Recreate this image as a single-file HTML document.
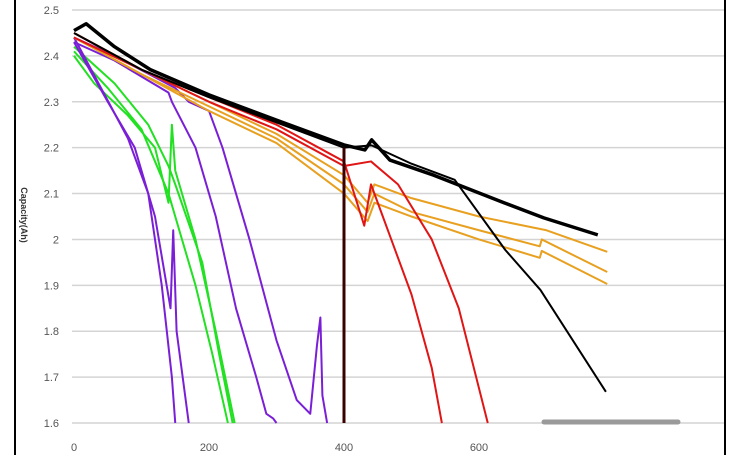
<!DOCTYPE html>
<html><head><meta charset="utf-8"><style>
body{margin:0;background:#fff;width:753px;height:455px;overflow:hidden;font-family:"Liberation Sans",sans-serif}
</style></head><body>
<svg id="chart" width="753" height="455" viewBox="0 0 753 455" xmlns="http://www.w3.org/2000/svg">
<line x1="15" y1="0" x2="15" y2="455" stroke="#000" stroke-width="2"/>
<line x1="725" y1="0" x2="725" y2="455" stroke="#000" stroke-width="2"/>
<g id="grid"></g><g id="series"></g><g id="labels"></g>
<line x1="544" y1="422" x2="678" y2="422" stroke="#9a9a9a" stroke-width="5" stroke-linecap="round"/>
<text transform="translate(21,215) rotate(90)" font-size="9" font-weight="bold" fill="#333" text-anchor="middle">Capacity(Ah)</text>
</svg>
<script>
const yTicks=[2.5,2.4,2.3,2.2,2.1,2,1.9,1.8,1.7,1.6];
const yTickLabels=["2.5","2.4","2.3","2.2","2.1","2","1.9","1.8","1.7","1.6"];
const xTicks=[0,200,400,600];
const black1=[[0,2.455],[18,2.47],[60,2.42],[113,2.37],[200,2.315],[300,2.26],[400,2.206],[431,2.195],[441,2.217],[468,2.173],[533,2.14],[637,2.08],[696,2.047],[776,2.01]];
const black2=[[0,2.45],[100,2.37],[200,2.31],[300,2.255],[400,2.2],[441,2.205],[500,2.165],[564,2.13],[639,1.977],[691,1.89],[788,1.668]];
const blackVert=[[400,2.2],[400,1.6]];
const orange1=[[0,2.45],[100,2.37],[200,2.3],[300,2.23],[400,2.14],[435,2.08],[445,2.12],[500,2.09],[600,2.05],[700,2.02],[790,1.973]];
const orange2=[[0,2.44],[100,2.36],[200,2.29],[300,2.22],[400,2.12],[435,2.06],[445,2.1],[500,2.06],[600,2.02],[690,1.985],[693,2.0],[790,1.929]];
const orange3=[[0,2.44],[100,2.36],[200,2.28],[300,2.21],[400,2.1],[435,2.04],[445,2.08],[500,2.05],[600,2.0],[690,1.96],[693,1.975],[790,1.903]];
const red1=[[0,2.45],[100,2.37],[200,2.31],[300,2.25],[400,2.17],[430,2.03],[440,2.12],[470,2.0],[500,1.88],[530,1.72],[545,1.6]];
const red2=[[0,2.44],[100,2.37],[200,2.3],[300,2.24],[400,2.16],[440,2.17],[480,2.12],[530,2.0],[570,1.85],[613,1.6]];
const green1=[[0,2.4],[30,2.34],[80,2.27],[120,2.2],[140,2.08],[145,2.25],[150,2.15],[180,2.0],[210,1.8],[238,1.6]];
const green2=[[0,2.42],[60,2.34],[110,2.25],[140,2.16],[150,2.12],[190,1.95],[215,1.75],[235,1.6]];
const green3=[[0,2.41],[50,2.33],[100,2.24],[140,2.1],[150,2.05],[180,1.9],[205,1.75],[228,1.6]];
const purple1=[[0,2.44],[40,2.33],[80,2.22],[110,2.1],[130,1.9],[145,1.7],[150,1.6]];
const purple2=[[0,2.43],[50,2.3],[90,2.2],[120,2.05],[143,1.85],[147,2.02],[152,1.8],[170,1.6]];
const purple3=[[0,2.44],[60,2.4],[150,2.33],[170,2.3],[200,2.28],[220,2.2],[260,2.0],[300,1.78],[330,1.65],[350,1.62],[360,1.77],[365,1.83],[368,1.66],[375,1.6]];
const purple4=[[0,2.43],[60,2.39],[140,2.32],[145,2.3],[180,2.2],[210,2.05],[240,1.85],[270,1.7],[285,1.62],[295,1.61],[300,1.6]];
const seriesList=[
 ["green-1",green1,"#22e022",2],["green-2",green2,"#22e022",2],["green-3",green3,"#22e022",2],
 ["purple-1",purple1,"#7a1fd6",2],["purple-2",purple2,"#7a1fd6",2],["purple-3",purple3,"#7a1fd6",2],["purple-4",purple4,"#7a1fd6",2],
 ["orange-1",orange1,"#e8a020",2],["orange-2",orange2,"#e8a020",2],["orange-3",orange3,"#e8a020",2],
 ["red-1",red1,"#e01515",2],["red-2",red2,"#e01515",2],
 ["black-2",black2,"#000",2],["black-vertical",blackVert,"#3a0000",3],["black-1",black1,"#000",3.5]];
const X=v=>74+v*0.675, Y=v=>10+(2.5-v)*458.9;
const NS="http://www.w3.org/2000/svg";
const grid=document.getElementById('grid'),lab=document.getElementById('labels'),ser=document.getElementById('series');
yTicks.forEach((t,i)=>{
 const l=document.createElementNS(NS,'line');
 
 
 l.setAttribute('x1',72);l.setAttribute('x2',724);l.setAttribute('y1',Y(t));l.setAttribute('y2',Y(t));
 l.setAttribute('stroke','#d4d4d4');l.setAttribute('stroke-width','1.5');grid.appendChild(l);
 const tx=document.createElementNS(NS,'text');
 
 
 tx.setAttribute('x',59);tx.setAttribute('y',Y(t)+4);tx.setAttribute('text-anchor','end');
 tx.setAttribute('font-size','11');tx.setAttribute('fill','#555');tx.textContent=yTickLabels[i];lab.appendChild(tx);
});
xTicks.forEach(t=>{
 const tx=document.createElementNS(NS,'text');
 
 
 tx.setAttribute('x',X(t));tx.setAttribute('y',451);tx.setAttribute('text-anchor','middle');
 tx.setAttribute('font-size','11');tx.setAttribute('fill','#555');tx.textContent=t;lab.appendChild(tx);
});
seriesList.forEach(s=>{
 const p=document.createElementNS(NS,'polyline');
 
 
 p.setAttribute('points',s[1].map(d=>X(d[0])+','+Y(d[1])).join(' '));
 p.setAttribute('fill','none');p.setAttribute('stroke',s[2]);p.setAttribute('stroke-width',s[3]);
 p.setAttribute('stroke-linejoin','round');ser.appendChild(p);
});
</script>
</body></html>
